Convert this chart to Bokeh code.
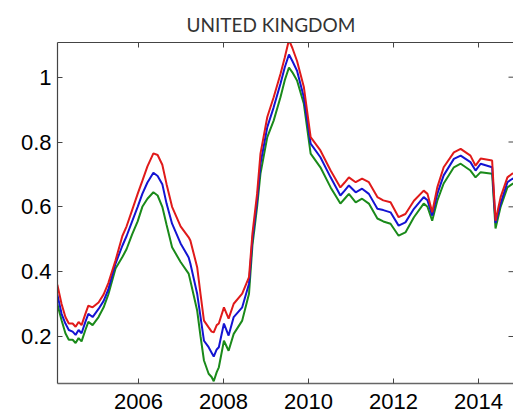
from bokeh.plotting import figure
from bokeh.models import Range1d, FixedTicker, LinearAxis
from bokeh.embed import file_html
from bokeh.resources import INLINE

# decimal years
years = [2004.09, 2004.19, 2004.28, 2004.36, 2004.45, 2004.52, 2004.59, 2004.66, 2004.75, 2004.82,
         2004.92, 2005.06, 2005.18, 2005.29, 2005.46, 2005.62, 2005.72, 2005.85, 2005.98, 2006.09,
         2006.21, 2006.35, 2006.45, 2006.56, 2006.66, 2006.79, 2006.99, 2007.18, 2007.22, 2007.38,
         2007.46, 2007.54, 2007.65, 2007.72, 2007.77, 2007.84, 2007.89, 2008.01, 2008.12, 2008.24,
         2008.44, 2008.60, 2008.68, 2008.79, 2008.87, 2009.03, 2009.18, 2009.34, 2009.44, 2009.54,
         2009.62, 2009.73, 2009.89, 2010.05, 2010.28, 2010.52, 2010.75, 2010.85, 2010.95, 2011.11,
         2011.26, 2011.42, 2011.62, 2011.76, 2011.93, 2012.12, 2012.28, 2012.48, 2012.71, 2012.80,
         2012.91, 2013.03, 2013.18, 2013.42, 2013.58, 2013.81, 2013.93, 2014.05, 2014.32, 2014.40,
         2014.52, 2014.68, 2014.79, 2014.87]

red = [0.36, 0.30, 0.26, 0.24, 0.24, 0.23, 0.245, 0.235, 0.27, 0.295,
       0.29, 0.305, 0.33, 0.365, 0.435, 0.51, 0.54, 0.59, 0.64, 0.68,
       0.725, 0.765, 0.76, 0.73, 0.67, 0.60, 0.54, 0.506, 0.496, 0.414,
       0.33, 0.249, 0.228, 0.215, 0.213, 0.235, 0.24, 0.29, 0.255, 0.301,
       0.332, 0.383, 0.517, 0.64, 0.764, 0.877, 0.938, 1.01, 1.06, 1.115,
       1.09, 1.05, 0.97, 0.815, 0.774, 0.712, 0.66, 0.675, 0.691, 0.676,
       0.687, 0.676, 0.63, 0.62, 0.614, 0.568, 0.578, 0.619, 0.65, 0.64,
       0.583, 0.66, 0.722, 0.768, 0.779, 0.758, 0.727, 0.749, 0.743, 0.557,
       0.63, 0.691, 0.702, 0.705]

blue = [0.33, 0.27, 0.24, 0.22, 0.215, 0.205, 0.22, 0.21, 0.245, 0.27,
        0.26, 0.285, 0.31, 0.345, 0.425, 0.48, 0.51, 0.555, 0.60, 0.64,
        0.675, 0.705, 0.695, 0.67, 0.61, 0.548, 0.487, 0.444, 0.425, 0.332,
        0.26, 0.187, 0.167, 0.15, 0.138, 0.16, 0.167, 0.24, 0.203, 0.26,
        0.29, 0.363, 0.50, 0.62, 0.733, 0.846, 0.907, 0.98, 1.03, 1.07,
        1.05, 1.02, 0.938, 0.795, 0.753, 0.691, 0.635, 0.65, 0.666, 0.645,
        0.656, 0.64, 0.594, 0.59, 0.583, 0.542, 0.552, 0.594, 0.63, 0.62,
        0.573, 0.64, 0.697, 0.748, 0.758, 0.738, 0.712, 0.733, 0.722, 0.55,
        0.61, 0.676, 0.686, 0.69]

green = [0.30, 0.25, 0.21, 0.19, 0.19, 0.18, 0.195, 0.185, 0.22, 0.245,
         0.235, 0.26, 0.29, 0.33, 0.41, 0.445, 0.47, 0.515, 0.555, 0.60,
         0.625, 0.645, 0.635, 0.60, 0.545, 0.475, 0.43, 0.394, 0.372, 0.28,
         0.20, 0.126, 0.085, 0.075, 0.062, 0.09, 0.105, 0.187, 0.156, 0.208,
         0.249, 0.332, 0.48, 0.60, 0.703, 0.815, 0.866, 0.938, 0.99, 1.03,
         1.015, 0.99, 0.918, 0.764, 0.722, 0.66, 0.61, 0.625, 0.64, 0.614,
         0.625, 0.61, 0.564, 0.555, 0.548, 0.511, 0.521, 0.568, 0.61, 0.60,
         0.557, 0.619, 0.672, 0.722, 0.733, 0.712, 0.691, 0.707, 0.702, 0.533,
         0.60, 0.66, 0.67, 0.675]

x_ticks = [2006, 2008, 2010, 2012, 2014]
x_tick_labels = ["2006", "2008", "2010", "2012", "2014"]
y_ticks = [0.2, 0.4, 0.6, 0.8, 1.0]
y_tick_labels = ["0.2", "0.4", "0.6", "0.8", "1"]

X0, X1 = 2004.094, 2014.823
Y0, Y1 = 0.055, 1.107

p = figure(width=513, height=418, output_backend="svg", toolbar_location=None,
           x_range=Range1d(X0, X1), y_range=Range1d(Y0, Y1),
           min_border_left=57, min_border_right=0, min_border_top=42, min_border_bottom=35,
           title="UNITED KINGDOM")
p.outline_line_color = None
p.xgrid.visible = False
p.ygrid.visible = False
p.background_fill_color = "white"
p.border_fill_color = "white"

p.title.align = "left"
p.title.offset = 129
p.title.standoff = 13
p.title.text_font = "Lato"
p.title.text_font_size = "19px"
p.title.text_font_style = "normal"
p.title.text_color = "#333333"

bottom = p.below[0]
left = p.left[0]

bottom.ticker = FixedTicker(ticks=x_ticks)
bottom.major_label_overrides = dict(zip(x_ticks, x_tick_labels))
left.ticker = FixedTicker(ticks=y_ticks)
left.major_label_overrides = dict(zip(y_ticks, y_tick_labels))

# top border line, no ticks/labels
top = LinearAxis(ticker=FixedTicker(ticks=[]))
top.major_tick_in = 0
top.major_tick_out = 0
top.minor_tick_in = 0
top.minor_tick_out = 0
top.major_label_standoff = 0
top.axis_line_color = "#444444"
top.axis_line_width = 1.2
p.add_layout(top, "above")

for ax in [bottom, left]:
    ax.axis_line_color = "#444444"
    ax.axis_line_width = 1.2
    ax.major_tick_line_color = "#444444"
    ax.major_tick_in = 5
    ax.major_tick_out = 0
    ax.minor_tick_in = 0
    ax.minor_tick_out = 0
    ax.major_label_text_font = "Liberation Sans"
    ax.major_label_text_font_size = "22px"
    ax.major_label_text_color = "black"
bottom.axis_line_color = "#666666"
bottom.axis_line_width = 1.6
bottom.major_label_standoff = 10
left.major_label_standoff = 6

# inward tick marks on top and right edges (MATLAB box)
p.ray(x=x_ticks, y=[Y1] * len(x_ticks), length=5, length_units="screen",
      angle=-90, angle_units="deg", line_color="#444444", line_width=1)
p.ray(x=[X1] * len(y_ticks), y=y_ticks, length=5, length_units="screen",
      angle=180, angle_units="deg", line_color="#444444", line_width=1)

p.line(years, green, line_color="#1a8a1a", line_width=2)
p.line(years, blue, line_color="#1414d2", line_width=2)
p.line(years, red, line_color="#e01a1a", line_width=2)

open("out.html", "w").write(file_html(p, INLINE))
